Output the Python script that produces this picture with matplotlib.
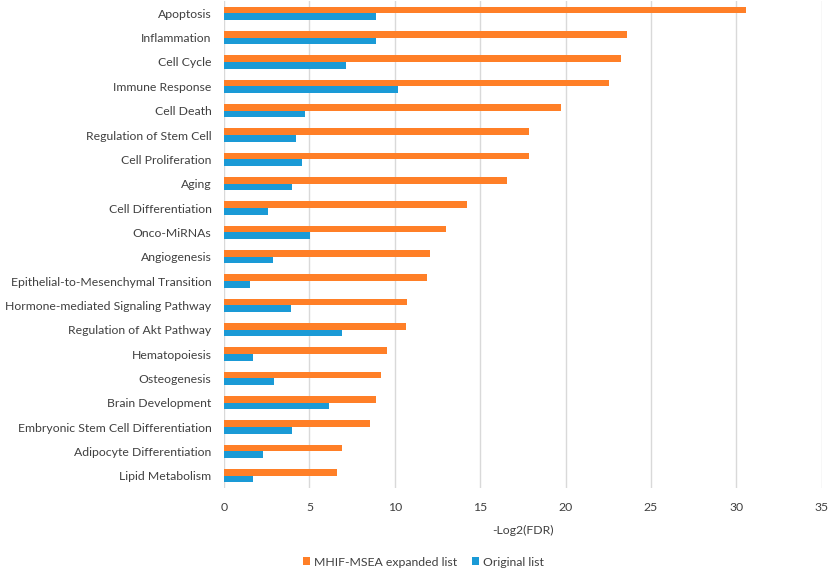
import matplotlib
matplotlib.use("Agg")
import matplotlib.pyplot as plt
import numpy as np

categories = ["Apoptosis", "Inflammation", "Cell Cycle", "Immune Response", "Cell Death",
              "Regulation of Stem Cell", "Cell Proliferation", "Aging", "Cell Differentiation",
              "Onco-MiRNAs", "Angiogenesis", "Epithelial-to-Mesenchymal Transition",
              "Hormone-mediated Signaling Pathway", "Regulation of Akt Pathway", "Hematopoiesis",
              "Osteogenesis", "Brain Development", "Embryonic Stem Cell Differentiation",
              "Adipocyte Differentiation", "Lipid Metabolism"]
expanded = [30.58, 23.6, 23.23, 22.55, 19.76, 17.83, 17.83, 16.59, 14.21, 13.0,
            12.03, 11.88, 10.73, 10.67, 9.52, 9.18, 8.9, 8.53, 6.89, 6.64]
original = [8.9, 8.87, 7.16, 10.17, 4.71, 4.22, 4.56, 4.0, 2.57, 5.02,
            2.85, 1.49, 3.94, 6.89, 1.71, 2.92, 6.14, 4.0, 2.30, 1.67]
xticks = [0, 5, 10, 15, 20, 25, 30, 35]

plt.rcParams['font.family'] = ['Lato', 'DejaVu Sans']
txt = '#404040'
fs = 8.8

fig = plt.figure(figsize=(8.3, 5.74), dpi=100)
ax = fig.add_axes([0.27, 0.150, 0.72, 0.848])
y = np.arange(len(categories))
h = 0.27
ax.barh(y - h/2, expanded, height=h, color='#FF7F27', label='MHIF-MSEA expanded list', zorder=3)
ax.barh(y + h/2, original, height=h, color='#1A9AD6', label='Original list', zorder=3)
ax.set_ylim(len(categories) - 0.5, -0.5)
ax.set_xlim(0, 35)
ax.set_xticks(xticks)
ax.set_yticks(y)
ax.set_yticklabels(categories, fontsize=fs, color=txt)
ax.tick_params(axis='both', length=0, colors=txt, labelsize=fs)
ax.tick_params(axis='x', pad=10)
ax.tick_params(axis='y', pad=9)
ax.grid(axis='x', color='#D9D9D9', linewidth=1, zorder=0)
for s in ax.spines.values():
    s.set_visible(False)
ax.set_xlabel('-Log2(FDR)', fontsize=fs, color=txt, labelpad=9)
fig.legend(loc='lower center', bbox_to_anchor=(0.51, -0.008), ncol=2, frameon=False,
           fontsize=fs, handlelength=0.6, handleheight=0.6, columnspacing=1.2,
           handletextpad=0.3, labelcolor=txt)
fig.savefig('out.png', dpi=100)
